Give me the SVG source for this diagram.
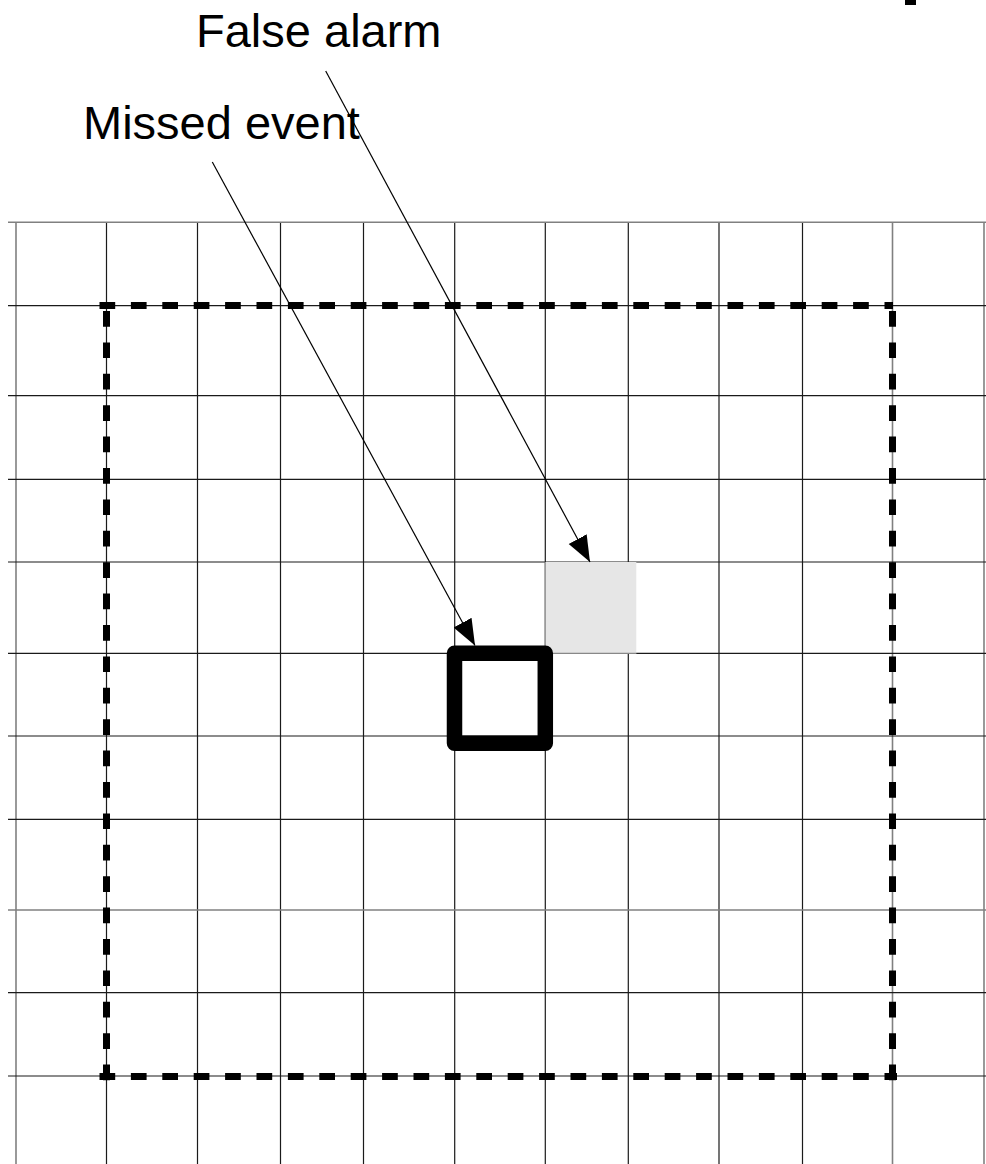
<svg xmlns="http://www.w3.org/2000/svg" width="986" height="1164" viewBox="0 0 986 1164">
  <style>
    .grid line { stroke: #1a1a1a; stroke-width: 1.2; }
    .grid line.g { stroke: #808080; stroke-width: 1.6; }
    .dash { stroke: #000; stroke-width: 7; stroke-dasharray: 15.7 15.7; fill: none; }
    .conn { stroke: #000; stroke-width: 1.2; fill: none; marker-end: url(#arrow); }
    .label { font-family: "Liberation Sans", Arial, sans-serif; font-size: 47px; fill: #000; }
  </style>
  <defs>
    <marker id="arrow" markerUnits="userSpaceOnUse" markerWidth="27" markerHeight="21" refX="26" refY="10.2" orient="auto">
      <path d="M0,0 L26,10.2 L0,20.4 z" fill="#000"/>
    </marker>
  </defs>
  <rect width="986" height="1164" fill="#fff"/>
  <rect id="corner-mark" x="905" y="0" width="11" height="5" fill="#000"/>
  <g id="grid" class="grid">
    <line class="g" x1="16" y1="222" x2="16" y2="1164"/>
    <line x1="106.5" y1="222" x2="106.5" y2="1164"/>
    <line x1="197.5" y1="222" x2="197.5" y2="1164"/>
    <line x1="280.5" y1="222" x2="280.5" y2="1164"/>
    <line x1="363.5" y1="222" x2="363.5" y2="1164"/>
    <line x1="454.7" y1="222" x2="454.7" y2="1164"/>
    <line x1="545.3" y1="222" x2="545.3" y2="1164"/>
    <line x1="628.3" y1="222" x2="628.3" y2="1164"/>
    <line x1="719" y1="222" x2="719" y2="1164"/>
    <line x1="802.5" y1="222" x2="802.5" y2="1164"/>
    <line class="g" x1="892.5" y1="222" x2="892.5" y2="1164"/>
    <line class="g" x1="984" y1="222" x2="984" y2="1164"/>
    <line class="g" x1="8" y1="222.3" x2="986" y2="222.3"/>
    <line x1="8" y1="305.7" x2="986" y2="305.7"/>
    <line x1="8" y1="395.7" x2="986" y2="395.7"/>
    <line x1="8" y1="479.3" x2="986" y2="479.3"/>
    <line x1="8" y1="562" x2="986" y2="562"/>
    <line x1="8" y1="653.3" x2="986" y2="653.3"/>
    <line x1="8" y1="736" x2="986" y2="736"/>
    <line x1="8" y1="819.3" x2="986" y2="819.3"/>
    <line class="g" x1="8" y1="910" x2="986" y2="910"/>
    <line x1="8" y1="992.7" x2="986" y2="992.7"/>
    <line x1="8" y1="1076" x2="986" y2="1076"/>
  </g>
  <g id="region">
    <line class="dash" x1="99.5" y1="305.5" x2="893" y2="305.5"/>
    <line class="dash" x1="99.5" y1="1076.5" x2="897" y2="1076.5"/>
    <line class="dash" x1="106.5" y1="311" x2="106.5" y2="1084"/>
    <line class="dash" x1="892.5" y1="311" x2="892.5" y2="1084"/>
  </g>
  <g id="false-alarm-cell">
    <rect x="545.3" y="562" width="91" height="91.3" fill="#e6e6e6"/>
    <line x1="545.3" y1="562" x2="545.3" y2="653.3" stroke="#999" stroke-width="1.2"/>
    <line x1="545.3" y1="653.3" x2="636.3" y2="653.3" stroke="#888" stroke-width="1.2"/>
  </g>
  <g id="missed-event-cell">
    <rect x="454.5" y="653.3" width="90.8" height="89.9" fill="none" stroke="#000" stroke-width="15.5" stroke-linejoin="round"/>
  </g>
  <g id="label-false-alarm">
    <text class="label" x="196" y="47">False alarm</text>
  </g>
  <g id="label-missed-event">
    <text class="label" x="83" y="139">Missed event</text>
  </g>
  <g id="connectors">
    <line class="conn" x1="212.3" y1="162" x2="475" y2="645.5"/>
    <line class="conn" x1="325.7" y1="71" x2="590" y2="562"/>
  </g>
</svg>
